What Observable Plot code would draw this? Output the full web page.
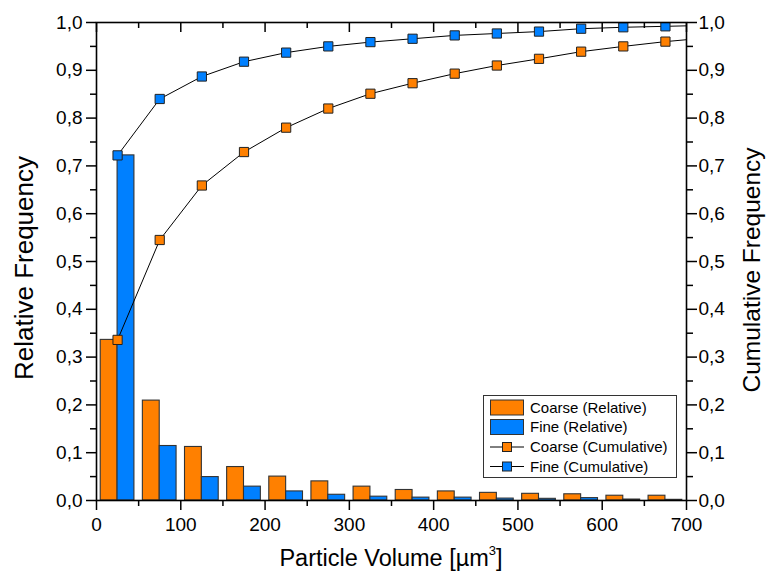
<!DOCTYPE html>
<html>
<head>
<meta charset="utf-8">
<script src="https://cdn.jsdelivr.net/npm/d3@7"></script>
<script src="https://cdn.jsdelivr.net/npm/@observablehq/plot@0.6"></script>
<style>
  html, body { margin: 0; padding: 0; background: #fff; }
  #chart svg { display: block; font-family: "Liberation Sans", Arial, sans-serif; }
</style>
</head>
<body>
<div id="chart"></div>
<script>
// Particle volume histogram: bins of 50 µm³, labelled by bin centre
const binCenters = [25, 75, 125, 175, 225, 275, 325, 375, 425, 475, 525, 575, 625, 675];
const coarseRelative = [0.336, 0.209, 0.112, 0.070, 0.050, 0.040, 0.029, 0.022, 0.019, 0.016, 0.014, 0.013, 0.010, 0.010];
const fineRelative   = [0.722, 0.114, 0.049, 0.029, 0.019, 0.012, 0.008, 0.006, 0.006, 0.004, 0.0035, 0.005, 0.002, 0.0014];

// Cumulative curves (the last bin lies past the axis end and is clipped)
const cumulativeCenters = [25, 75, 125, 175, 225, 275, 325, 375, 425, 475, 525, 575, 625, 675, 725];
const coarseCumulative = [0.336, 0.545, 0.659, 0.729, 0.780, 0.820, 0.851, 0.873, 0.893, 0.910, 0.924, 0.939, 0.950, 0.960, 0.968];
const fineCumulative   = [0.722, 0.840, 0.887, 0.918, 0.937, 0.950, 0.959, 0.966, 0.973, 0.977, 0.981, 0.987, 0.990, 0.992, 0.994];

const xMajor = [0, 100, 200, 300, 400, 500, 600, 700];
const xMinor = [50, 150, 250, 350, 450, 550, 650];
const yMajor = [0, 0.1, 0.2, 0.3, 0.4, 0.5, 0.6, 0.7, 0.8, 0.9, 1.0];
const yMinor = [0.05, 0.15, 0.25, 0.35, 0.45, 0.55, 0.65, 0.75, 0.85, 0.95];

const seriesNames = ["Coarse (Relative)", "Fine (Relative)", "Coarse (Cumulative)", "Fine (Cumulative)"];

const ORANGE = "#ff8000";
const BLUE = "#0080ff";
const BAR_WIDTH = 20;

const W = 766, H = 584;
const M = { left: 96, right: 80, top: 22, bottom: 84 };
const innerH = H - M.top - M.bottom;

const fmt = d => d.toFixed(1).replace(".", ",");

const coarseBars = binCenters.map((c, i) => ({ c, v: coarseRelative[i] }));
const fineBars = binCenters.map((c, i) => ({ c, v: fineRelative[i] }));
const coarseCum = cumulativeCenters.map((c, i) => ({ c, v: coarseCumulative[i] }));
const fineCum = cumulativeCenters.map((c, i) => ({ c, v: fineCumulative[i] }));

const tickStyle = { strokeWidth: 1.5, stroke: "#000" };

const chart = Plot.plot({
  width: W,
  height: H,
  marginLeft: M.left,
  marginRight: M.right,
  marginTop: M.top,
  marginBottom: M.bottom,
  style: { fontFamily: "'Liberation Sans', Arial, sans-serif", fontSize: "19px", color: "#000", background: "#fff" },
  x: { domain: [0, 700] },
  y: { domain: [0, 1] },
  marks: [
    // relative frequency bars: coarse left of the bin centre, fine right of it
    Plot.rectY(coarseBars, { x1: d => d.c - BAR_WIDTH, x2: d => d.c, y: "v", fill: ORANGE, stroke: "#333", strokeWidth: 1.1 }),
    Plot.rectY(fineBars, { x1: d => d.c, x2: d => d.c + BAR_WIDTH, y: "v", fill: BLUE, stroke: "#333", strokeWidth: 1.1 }),

    // cumulative curves
    Plot.line(coarseCum, { x: "c", y: "v", stroke: "#000", strokeWidth: 1, clip: true }),
    Plot.line(fineCum, { x: "c", y: "v", stroke: "#000", strokeWidth: 1, clip: true }),
    Plot.dot(coarseCum, { x: "c", y: "v", symbol: "square", r: 5.2, fill: ORANGE, stroke: "#222", strokeWidth: 1, clip: true }),
    Plot.dot(fineCum, { x: "c", y: "v", symbol: "square", r: 5.2, fill: BLUE, stroke: "#222", strokeWidth: 1, clip: true }),

    // bottom axis
    Plot.axisX(xMajor, { anchor: "bottom", tickSize: 10, tickPadding: 7, tickFormat: d => String(d), label: null, ...tickStyle }),
    Plot.axisX(xMinor, { anchor: "bottom", tickSize: 6, tickFormat: () => "", label: null, ...tickStyle }),
    // top axis: inward ticks only
    Plot.tickX(xMajor, { x: d => d, insetBottom: innerH - 10, ...tickStyle }),
    Plot.tickX(xMinor, { x: d => d, insetBottom: innerH - 6, ...tickStyle }),

    // left axis (relative frequency)
    Plot.axisY(yMajor, { anchor: "left", tickSize: 10, tickPadding: 4, tickFormat: fmt, label: null, ...tickStyle }),
    Plot.axisY(yMinor, { anchor: "left", tickSize: 6, tickFormat: () => "", label: null, ...tickStyle }),
    // right axis (cumulative frequency)
    Plot.axisY(yMajor, { anchor: "right", tickSize: 10, tickPadding: 2, tickFormat: fmt, label: null, ...tickStyle }),
    Plot.axisY(yMinor, { anchor: "right", tickSize: 6, tickFormat: () => "", label: null, ...tickStyle }),

    Plot.frame({ stroke: "#000", strokeWidth: 1.6 })
  ]
});

const svg = d3.select(chart);
const FONT = "'Liberation Sans', Arial, sans-serif";

// axis titles
svg.append("text")
  .attr("x", (M.left + W - M.right) / 2)
  .attr("y", 566)
  .attr("text-anchor", "middle")
  .attr("font-family", FONT)
  .attr("font-size", 23.5)
  .attr("fill", "#000")
  .call(t => {
    t.append("tspan").text("Particle Volume [µm");
    t.append("tspan").attr("font-size", 13).attr("dy", -11).text("3");
    t.append("tspan").attr("dy", 11).text("]");
  });

svg.append("text")
  .attr("transform", `translate(33, 268) rotate(-90)`)
  .attr("text-anchor", "middle")
  .attr("font-family", FONT)
  .attr("font-size", 26)
  .attr("fill", "#000")
  .text("Relative Frequency");

svg.append("text")
  .attr("transform", `translate(760, 270) rotate(-90)`)
  .attr("text-anchor", "middle")
  .attr("font-family", FONT)
  .attr("font-size", 24.5)
  .attr("fill", "#000")
  .text("Cumulative Frequency");

// legend
const legend = svg.append("g")
  .attr("font-family", FONT)
  .attr("font-size", 15)
  .attr("text-anchor", "start");
legend.append("rect")
  .attr("x", 483.5).attr("y", 395.5).attr("width", 193).attr("height", 82)
  .attr("fill", "#fff").attr("stroke", "#333").attr("stroke-width", 1);

const rowY = [407.5, 427, 447, 466.5];
const rowFill = [ORANGE, BLUE, ORANGE, BLUE];
seriesNames.forEach((name, i) => {
  const y = rowY[i];
  if (i < 2) {
    legend.append("rect")
      .attr("x", 490.5).attr("y", y - 7.5).attr("width", 33).attr("height", 15)
      .attr("fill", rowFill[i]).attr("stroke", "#333").attr("stroke-width", 1);
  } else {
    legend.append("line")
      .attr("x1", 490).attr("x2", 524).attr("y1", y).attr("y2", y)
      .attr("stroke", "#000").attr("stroke-width", 1);
    legend.append("rect")
      .attr("x", 507 - 4.5).attr("y", y - 4.5).attr("width", 9).attr("height", 9)
      .attr("fill", rowFill[i]).attr("stroke", "#222").attr("stroke-width", 1);
  }
  legend.append("text")
    .attr("x", 530).attr("y", y).attr("dy", "0.35em")
    .attr("text-anchor", "start")
    .attr("fill", "#000")
    .text(name);
});

document.getElementById("chart").appendChild(chart);
</script>
</body>
</html>
